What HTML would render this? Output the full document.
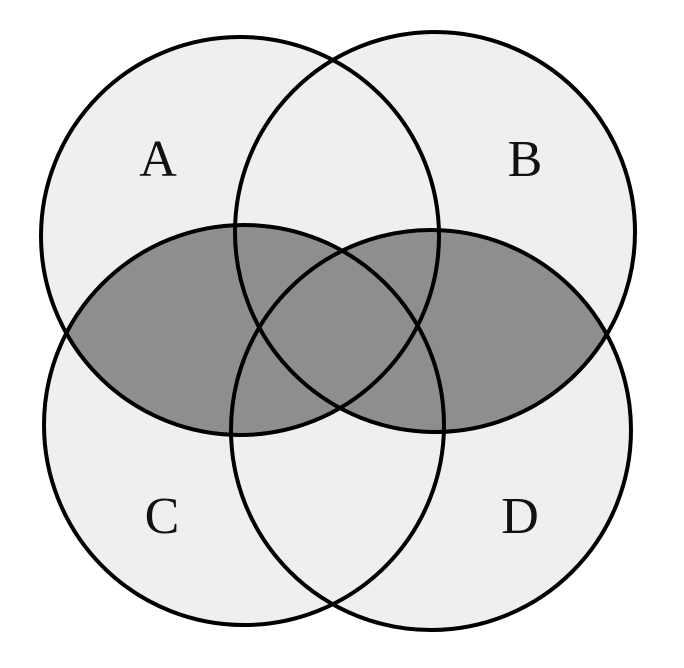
<!DOCTYPE html>
<html><head><meta charset="utf-8"><style>
html,body{margin:0;padding:0;background:#fff;}
svg{display:block;}
text{font-family:"Liberation Serif",serif;font-size:52px;fill:#111;}
</style></head><body>
<svg width="684" height="668" viewBox="0 0 684 668">
<defs>
<clipPath id="clipA"><circle cx="240" cy="236" r="199"/></clipPath>
<clipPath id="clipB"><circle cx="435" cy="232" r="200"/></clipPath>
</defs>
<g>
<circle cx="240" cy="236" r="199" fill="#efefef"/>
<circle cx="435" cy="232" r="200" fill="#efefef"/>
<circle cx="244" cy="425" r="200" fill="#efefef"/>
<circle cx="431" cy="430" r="200" fill="#efefef"/>
</g>
<g fill="#8e8e8e">
<g clip-path="url(#clipA)">
<circle cx="244" cy="425" r="200"/><circle cx="431" cy="430" r="200"/>
</g>
<g clip-path="url(#clipB)">
<circle cx="244" cy="425" r="200"/><circle cx="431" cy="430" r="200"/>
</g>
</g>
<g fill="none" stroke="#000" stroke-width="4">
<circle cx="240" cy="236" r="199"/>
<circle cx="435" cy="232" r="200"/>
<circle cx="244" cy="425" r="200"/>
<circle cx="431" cy="430" r="200"/>
</g>
<text x="158" y="176" text-anchor="middle">A</text>
<text x="525" y="176" text-anchor="middle">B</text>
<text x="162" y="533" text-anchor="middle">C</text>
<text x="520" y="533" text-anchor="middle">D</text>
</svg>
</body></html>
